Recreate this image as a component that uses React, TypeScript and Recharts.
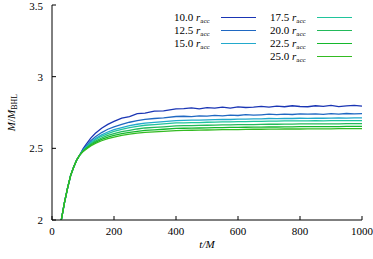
import React from 'react';
import { LineChart, Line, XAxis, YAxis } from 'recharts';

// time samples (t/M)
const times = [
  30, 40, 50, 60, 70, 80, 90,
  100, 110, 125, 140, 160, 180, 200, 225, 250, 275, 300, 330, 360, 400,
  425, 450, 475, 500, 525, 550, 575, 600, 625, 650, 675, 700,
  725, 750, 775, 800, 825, 850, 875, 900, 925, 950, 975, 1000,
];

// early rise, shared by all radii
const rise = [2.0, 2.12, 2.22, 2.31, 2.37, 2.42, 2.455];

const r100 = [
  2.496, 2.527, 2.571, 2.605, 2.64, 2.667, 2.688, 2.711, 2.722, 2.742, 2.746, 2.759, 2.761, 2.775,
  2.777, 2.782, 2.776, 2.784, 2.781, 2.787, 2.78, 2.789, 2.785, 2.788, 2.793, 2.787,
  2.794, 2.79, 2.797, 2.792, 2.79, 2.797, 2.793, 2.799, 2.791, 2.796, 2.8, 2.794,
];
const r125 = [
  2.489, 2.515, 2.553, 2.581, 2.61, 2.633, 2.65, 2.667, 2.682, 2.693, 2.702, 2.708, 2.713, 2.722,
  2.724, 2.721, 2.727, 2.725, 2.73, 2.727, 2.732, 2.729, 2.735, 2.731, 2.734, 2.738,
  2.735, 2.739, 2.736, 2.74, 2.738, 2.741, 2.737, 2.742, 2.739, 2.743, 2.74, 2.742,
];
const r150 = [
  2.486, 2.509, 2.542, 2.568, 2.594, 2.614, 2.63, 2.645, 2.658, 2.668, 2.676, 2.681, 2.686, 2.694,
  2.695, 2.697, 2.697, 2.699, 2.7, 2.702, 2.701, 2.704, 2.704, 2.706, 2.705, 2.708,
  2.707, 2.709, 2.708, 2.71, 2.709, 2.711, 2.71, 2.711, 2.712, 2.711, 2.713, 2.712,
];
const r175 = [
  2.484, 2.505, 2.536, 2.56, 2.584, 2.603, 2.618, 2.632, 2.644, 2.653, 2.661, 2.665, 2.67, 2.677,
  2.678, 2.68, 2.68, 2.682, 2.683, 2.684, 2.685, 2.686, 2.687, 2.688, 2.688, 2.69,
  2.69, 2.691, 2.691, 2.692, 2.692, 2.693, 2.692, 2.693, 2.694, 2.693, 2.694, 2.694,
];
const r200 = [
  2.481, 2.501, 2.529, 2.55, 2.572, 2.59, 2.603, 2.616, 2.626, 2.635, 2.642, 2.646, 2.65, 2.657,
  2.658, 2.659, 2.66, 2.661, 2.662, 2.663, 2.664, 2.665, 2.665, 2.666, 2.667, 2.668,
  2.668, 2.669, 2.669, 2.67, 2.67, 2.67, 2.671, 2.671, 2.671, 2.672, 2.672, 2.672,
];
const r225 = [
  2.479, 2.497, 2.522, 2.542, 2.562, 2.578, 2.59, 2.602, 2.611, 2.619, 2.625, 2.629, 2.633, 2.639,
  2.64, 2.641, 2.642, 2.643, 2.644, 2.645, 2.646, 2.646, 2.647, 2.648, 2.648, 2.649,
  2.649, 2.65, 2.65, 2.651, 2.651, 2.651, 2.652, 2.652, 2.652, 2.653, 2.653, 2.653,
];
const r250 = [
  2.477, 2.493, 2.517, 2.535, 2.553, 2.568, 2.579, 2.59, 2.599, 2.606, 2.612, 2.615, 2.619, 2.624,
  2.625, 2.626, 2.627, 2.628, 2.629, 2.63, 2.631, 2.631, 2.632, 2.633, 2.633, 2.634,
  2.634, 2.635, 2.635, 2.635, 2.636, 2.636, 2.636, 2.636, 2.637, 2.637, 2.637, 2.637,
];

const radii = ['10.0', '12.5', '15.0', '17.5', '20.0', '22.5', '25.0'];
const seriesValues = [r100, r125, r150, r175, r200, r225, r250];
const colors = ['#1a35b4', '#1f68c2', '#22a9cc', '#20c49c', '#22b95a', '#14b82c', '#34bb22'];

const xTicks = [0, 200, 400, 600, 800, 1000];
const yTicks = [2, 2.5, 3, 3.5];

const data = times.map((t, i) => {
  const row: Record<string, number> = { t };
  seriesValues.forEach((s, k) => {
    row['s' + k] = i < rise.length ? rise[i] : s[i - rise.length];
  });
  return row;
});

const FONT = 'Liberation Serif';

const YLabel = (props: any) => {
  const { viewBox } = props;
  const cx = viewBox.x + 11;
  const cy = viewBox.y + viewBox.height / 2;
  return (
    <text
      x={cx}
      y={cy}
      transform={`rotate(-90 ${cx} ${cy})`}
      textAnchor="middle"
      dominantBaseline="central"
      style={{ fontFamily: FONT, fontSize: 11 }}
      fill="#000"
    >
      <tspan fontStyle="italic">M</tspan>
      <tspan>/</tspan>
      <tspan fontStyle="italic">M</tspan>
      <tspan fontSize={8} dy={2.5}>BHL</tspan>
    </text>
  );
};

const XLabel = (props: any) => {
  const { viewBox } = props;
  return (
    <text
      x={viewBox.x + viewBox.width / 2}
      y={248}
      textAnchor="middle"
      style={{ fontFamily: FONT, fontSize: 11, fontStyle: 'italic' }}
      fill="#000"
    >
      t/M
    </text>
  );
};

const legendCols = [[0, 1, 2], [3, 4, 5, 6]];

function RadiusLegend() {
  return (
    <div
      style={{
        position: 'absolute',
        left: 174,
        top: 11,
        display: 'flex',
        gap: 14,
        fontFamily: FONT,
        fontSize: 11,
        color: '#000',
      }}
    >
      {legendCols.map((col, ci) => (
        <div key={ci} style={{ display: 'flex', flexDirection: 'column' }}>
          {col.map((k) => (
            <div key={k} style={{ display: 'flex', alignItems: 'center', height: 13 }}>
              <span style={{ whiteSpace: 'nowrap', width: 42, textAlign: 'left' }}>
                {radii[k]} <i>r</i>
                <sub style={{ fontSize: 7, verticalAlign: -2 }}>acc</sub>
              </span>
              <span
                style={{
                  display: 'inline-block',
                  width: 35,
                  height: 1.6,
                  marginLeft: 5,
                  background: colors[k],
                }}
              />
            </div>
          ))}
        </div>
      ))}
    </div>
  );
}

export default function App() {
  return (
    <div style={{ position: 'absolute', left: 0, top: 0, width: 373, height: 259, background: '#fff', fontFamily: FONT }}>
      <LineChart
        width={373}
        height={259}
        data={data}
        margin={{ top: 5, right: 11, bottom: 0, left: 0 }}
        style={{ fontFamily: FONT }}
      >
        <XAxis
          dataKey="t"
          type="number"
          domain={[0, 1000]}
          ticks={xTicks}
          height={39}
          stroke="#000"
          tickSize={-4}
          tickMargin={11}
          tick={{ fontFamily: FONT, fontSize: 11, fill: '#000' }}
          label={<XLabel />}
        />
        <XAxis
          xAxisId="top"
          orientation="top"
          dataKey="t"
          type="number"
          domain={[0, 1000]}
          ticks={xTicks}
          height={0}
          stroke="#000"
          tickSize={-4}
          tick={false}
        />
        <YAxis
          type="number"
          domain={[2, 3.5]}
          ticks={yTicks}
          allowDataOverflow
          width={52}
          stroke="#000"
          tickSize={-4}
          tickMargin={13}
          tick={{ fontFamily: FONT, fontSize: 11, fill: '#000' }}
          label={<YLabel />}
        />
        <YAxis
          yAxisId="right"
          orientation="right"
          type="number"
          domain={[2, 3.5]}
          ticks={yTicks}
          width={0}
          stroke="#000"
          tickSize={-4}
          tick={false}
        />
        {radii.map((r, k) => (
          <Line
            key={r}
            dataKey={'s' + k}
            name={r}
            stroke={colors[k]}
            strokeWidth={1.3}
            dot={false}
            isAnimationActive={false}
          />
        ))}
      </LineChart>
      <RadiusLegend />
    </div>
  );
}
